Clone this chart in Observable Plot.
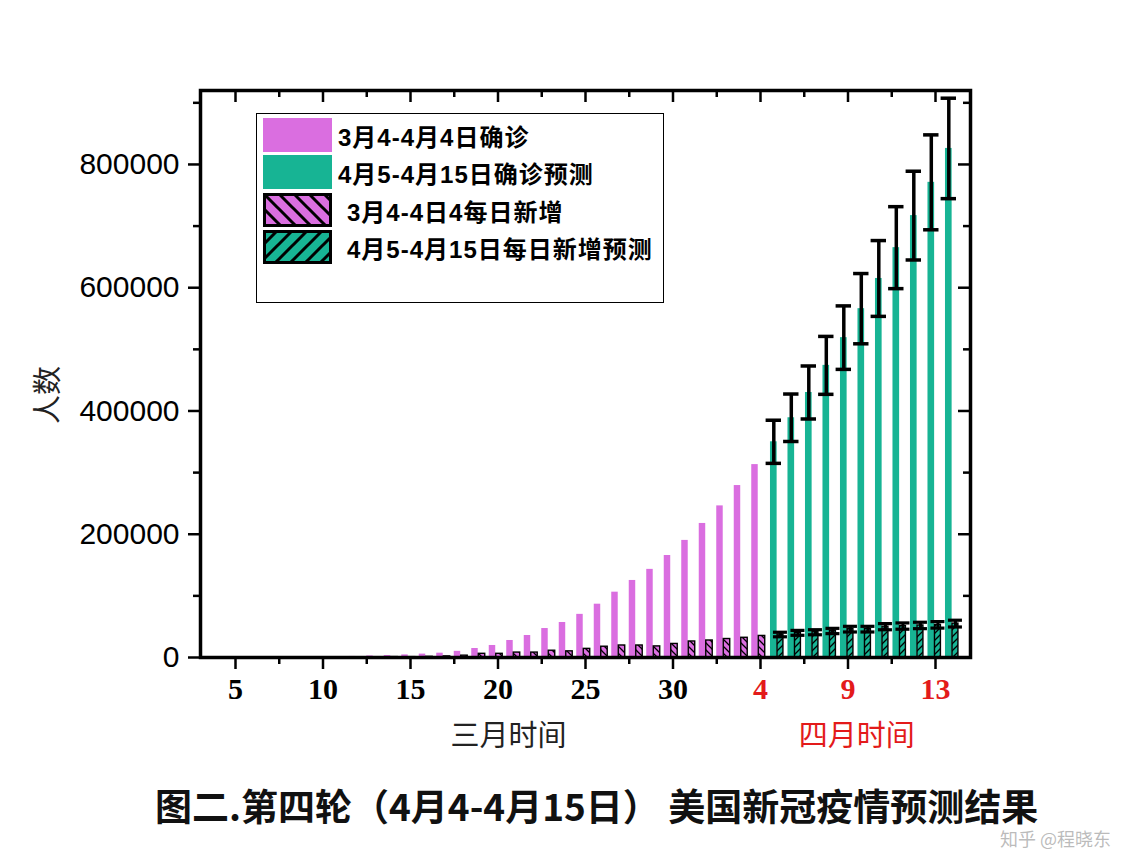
<!DOCTYPE html>
<html><head><meta charset="utf-8">
<script src="https://cdn.jsdelivr.net/npm/d3@7"></script>
<script src="https://cdn.jsdelivr.net/npm/@observablehq/plot@0.6"></script>
<style>
body{margin:0;background:#fff;}
#wrap{position:relative;width:1130px;height:852px;overflow:hidden;}
#legend{position:absolute;left:256px;top:113px;width:408px;height:190px;border:1.5px solid #000;box-sizing:border-box;background:#fff;}
.item{position:absolute;left:6px;height:34px;display:flex;align-items:center;}
.item span{font:bold 24px "Liberation Sans","Noto Sans CJK SC",sans-serif;letter-spacing:1px;white-space:nowrap;}
#title{position:absolute;left:155px;top:787px;font:bold 37px/37px "Noto Sans CJK SC",sans-serif;white-space:nowrap;color:#111;}
#wm{position:absolute;left:1000px;top:828px;font:18px/20px "Noto Sans CJK SC",sans-serif;color:rgba(175,175,175,0.85);white-space:nowrap;}
#ylab{position:absolute;left:45px;top:395px;transform:translate(-50%,-50%) rotate(-90deg);font:29px "Noto Sans CJK SC",sans-serif;color:#222;white-space:nowrap;}
</style></head><body>
<div id="wrap">
<div id="chart"></div>
<div id="legend"></div>
<div id="ylab">人数</div>
<div id="title">图二.第四轮（4月4-4月15日） 美国新冠疫情预测结果</div>
<div id="wm">知乎 @程晓东</div>
</div>
<script>
// ---------- data ----------
// x index: 4..35 = 3月4日..4月4日 (35 = 4月4日), 36..46 = 4月5日..4月15日
const observedStart = 4;
const observedCum = [150,220,320,440,540,700,960,1300,1700,2500,3200,4200,5500,7000,10000,14600,19500,27600,35700,47000,56800,70000,86500,106000,125000,143000,165500,190000,217500,246000,279000,313000];
const observedNew = [50,70,100,120,100,160,260,340,400,500,700,600,1100,1800,3000,6000,6000,8000,8000,11000,10000,14000,17500,19500,19500,18000,22000,26000,27600,30000,32000,35000];
const forecastStart = 36;
const forecastCum = [350000,389000,430000,474000,519000,566000,615000,665000,717000,771000,826000];
const forecastCumErr = [35000,38500,43000,47000,51500,57000,61500,66500,72000,77000,81500];
const forecastNew = [37300,40000,41000,43000,46000,46000,50000,51000,52000,53000,55000];
const forecastNewErr = [3700,4000,4100,4300,4600,4600,5000,5100,5200,5300,5500];

const xTickValues = [5,10,15,20,25,30,35,40,45];
const xTickLabels = ["5","10","15","20","25","30","4","9","13"];
const xTickIsApril = [false,false,false,false,false,false,true,true,true];
const xMinorValues = [7.5,12.5,17.5,22.5,27.5,32.5,37.5,42.5];
const yTickValues = [0,200000,400000,600000,800000];
const yMinorValues = [100000,300000,500000,700000,900000];

const legendLabels = ["3月4-4月4日确诊","4月5-4月15日确诊预测","3月4-4日4每日新增","4月5-4月15日每日新增预测"];
const axisTitles = [{x: 20.6, text: "三月时间", april: false},{x: 40.5, text: "四月时间", april: true}];

const pink = "#da6ee0";
const green = "#17b494";
const red = "#e31a1a";

// ---------- build tables ----------
const obs = observedCum.map((c, k) => ({i: observedStart + k, cum: c, nw: observedNew[k]}));
const fc = forecastCum.map((c, k) => ({i: forecastStart + k, cum: c, err: forecastCumErr[k], nw: forecastNew[k], nerr: forecastNewErr[k]}));
const xt = xTickValues.map((v, k) => ({v, label: xTickLabels[k], april: xTickIsApril[k]}));

const X0 = 3, X1 = 47, Y1 = 920000;
const serifBold = {fontFamily: "'Liberation Serif','Times New Roman',serif", fontWeight: "bold", fontSize: 30};

const svg = Plot.plot({
  width: 1130, height: 770,
  marginLeft: 200, marginRight: 160, marginTop: 90, marginBottom: 113,
  x: {domain: [X0, X1], axis: null},
  y: {domain: [0, Y1], axis: null},
  style: {background: "white", overflow: "visible"},
  marks: [
    // cumulative bars
    Plot.rectY(obs, {x1: d => d.i - 0.5, x2: d => d.i - 0.13, y1: 0, y2: "cum", fill: pink}),
    Plot.rectY(fc, {x1: d => d.i - 0.43, x2: d => d.i - 0.05, y1: 0, y2: "cum", fill: green}),
    // daily new (hatched)
    Plot.rectY(obs, {x1: d => d.i - 0.1, x2: d => d.i + 0.27, y1: 0, y2: "nw", fill: "url(#hatchPink)", stroke: "black", strokeWidth: 1.4}),
    Plot.rectY(fc, {x1: d => d.i - 0.03, x2: d => d.i + 0.31, y1: 0, y2: "nw", fill: "url(#hatchGreen)", stroke: "black", strokeWidth: 1.4}),
    // error bars on cumulative forecast
    Plot.ruleX(fc, {x: d => d.i - 0.24, y1: d => d.cum - d.err, y2: d => d.cum + d.err, stroke: "black", strokeWidth: 3.5}),
    Plot.ruleY(fc, {y: d => d.cum + d.err, x1: d => d.i - 0.68, x2: d => d.i + 0.2, stroke: "black", strokeWidth: 3.5}),
    Plot.ruleY(fc, {y: d => d.cum - d.err, x1: d => d.i - 0.68, x2: d => d.i + 0.2, stroke: "black", strokeWidth: 3.5}),
    // error bars on daily forecast
    Plot.ruleX(fc, {x: d => d.i + 0.14, y1: d => d.nw - d.nerr, y2: d => d.nw + d.nerr, stroke: "black", strokeWidth: 3}),
    Plot.ruleY(fc, {y: d => d.nw + d.nerr, x1: d => d.i - 0.26, x2: d => d.i + 0.54, stroke: "black", strokeWidth: 3.2}),
    Plot.ruleY(fc, {y: d => d.nw - d.nerr, x1: d => d.i - 0.26, x2: d => d.i + 0.54, stroke: "black", strokeWidth: 3.2}),
    // frame
    Plot.frame({stroke: "black", strokeWidth: 3.5}),
    // bottom ticks (outward) and top ticks (inward)
    Plot.ruleX(xTickValues, {x: d => d, y1: 0, y2: 0, insetBottom: -12, stroke: "black", strokeWidth: 2.5}),
    Plot.ruleX(xMinorValues, {x: d => d, y1: 0, y2: 0, insetBottom: -7, stroke: "black", strokeWidth: 2.5}),
    Plot.ruleX(xTickValues, {x: d => d, y1: Y1, y2: Y1, insetBottom: -12, stroke: "black", strokeWidth: 2.5}),
    Plot.ruleX(xMinorValues, {x: d => d, y1: Y1, y2: Y1, insetBottom: -7, stroke: "black", strokeWidth: 2.5}),
    // left ticks (outward) and right ticks (inward)
    Plot.ruleY(yTickValues, {y: d => d, x1: X0, x2: X0, insetLeft: -12, stroke: "black", strokeWidth: 2.5}),
    Plot.ruleY(yMinorValues, {y: d => d, x1: X0, x2: X0, insetLeft: -7, stroke: "black", strokeWidth: 2.5}),
    Plot.ruleY(yTickValues, {y: d => d, x1: X1, x2: X1, insetLeft: -12, stroke: "black", strokeWidth: 2.5}),
    Plot.ruleY(yMinorValues, {y: d => d, x1: X1, x2: X1, insetLeft: -7, stroke: "black", strokeWidth: 2.5}),
    // tick labels
    Plot.text(xt.filter(d => !d.april), {x: "v", text: "label", frameAnchor: "bottom", dy: 41, fill: "black", ...serifBold}),
    Plot.text(xt.filter(d => d.april), {x: "v", text: "label", frameAnchor: "bottom", dy: 41, fill: red, ...serifBold}),
    Plot.text(yTickValues, {y: d => d, text: d => String(d), frameAnchor: "left", dx: -21, textAnchor: "end", fontFamily: "'Liberation Sans',Arial,sans-serif", fontSize: 30, fill: "black"}),
    // axis titles
    Plot.text(axisTitles.filter(d => !d.april), {x: "x", text: "text", frameAnchor: "bottom", dy: 88, fontFamily: "'Noto Sans CJK SC',sans-serif", fontSize: 29, fill: "#222"}),
    Plot.text(axisTitles.filter(d => d.april), {x: "x", text: "text", frameAnchor: "bottom", dy: 88, fontFamily: "'Noto Sans CJK SC',sans-serif", fontSize: 29, fill: red})
  ]
});

// hatch patterns
const defs = d3.select(svg).insert("defs", ":first-child");
function addHatch(sel, id, bg, dir, size, sw) {
  const p = sel.append("pattern").attr("id", id).attr("patternUnits", "userSpaceOnUse")
    .attr("width", size).attr("height", size);
  p.append("rect").attr("width", size).attr("height", size).attr("fill", bg);
  const s = size;
  const path = dir === "back"
    ? `M${-s/2},${s/2} L${s/2},${3*s/2} M0,0 L${s},${s} M${s/2},${-s/2} L${3*s/2},${s/2}`
    : `M${-s/2},${s/2} L${s/2},${-s/2} M0,${s} L${s},0 M${s/2},${3*s/2} L${3*s/2},${s/2}`;
  p.append("path").attr("d", path).attr("stroke", "black").attr("stroke-width", sw);
}
addHatch(defs, "hatchPink", pink, "back", 7, 1.3);
addHatch(defs, "hatchGreen", green, "fwd", 7, 1.3);
document.getElementById("chart").appendChild(svg);

// legend
const legend = d3.select("#legend");
const tops = [4, 41, 79, 116];
const swatchFill = [pink, green, "url(#lgPink)", "url(#lgGreen)"];
const textGap = [6, 6, 15, 15];
legendLabels.forEach((lab, k) => {
  const it = legend.append("div").attr("class", "item").style("top", tops[k] + "px");
  const s = it.append("svg").attr("width", 69).attr("height", 34);
  if (k === 0) {
    const d = s.append("defs");
    addHatch(d, "lgPink", pink, "back", 15, 3);
    addHatch(d, "lgGreen", green, "fwd", 15, 3);
  }
  if (k < 2) s.append("rect").attr("width", 69).attr("height", 34).attr("fill", swatchFill[k]);
  else s.append("rect").attr("x", 1.5).attr("y", 1.5).attr("width", 66).attr("height", 31)
        .attr("fill", swatchFill[k]).attr("stroke", "black").attr("stroke-width", 3);
  it.append("span").style("margin-left", textGap[k] + "px").text(lab);
});
</script>
</body></html>
